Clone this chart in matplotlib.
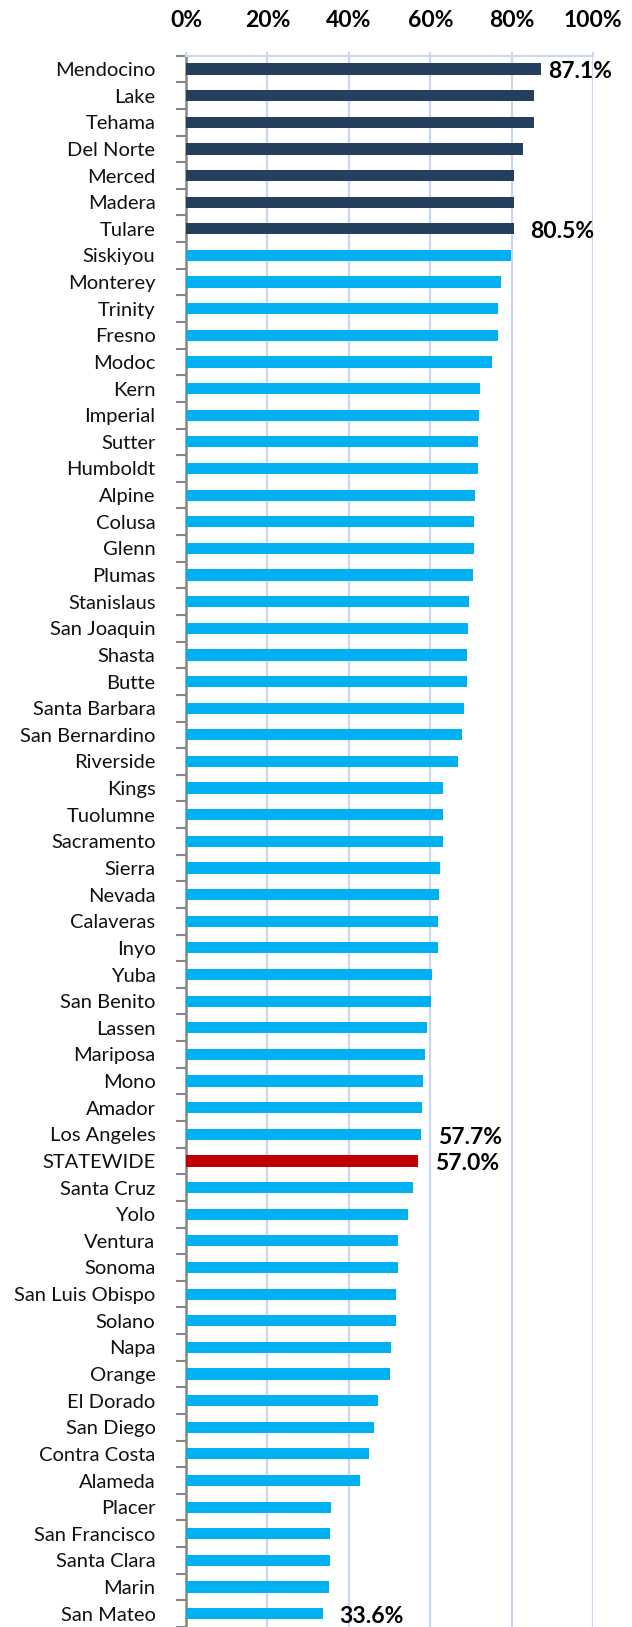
import matplotlib as mpl
import matplotlib.pyplot as plt
import numpy as np
from matplotlib.ticker import FixedLocator, PercentFormatter

COUNTIES = [
    "Mendocino", "Lake", "Tehama", "Del Norte", "Merced", "Madera", "Tulare",
    "Siskiyou", "Monterey", "Trinity", "Fresno", "Modoc", "Kern", "Imperial",
    "Sutter", "Humboldt", "Alpine", "Colusa", "Glenn", "Plumas", "Stanislaus",
    "San Joaquin", "Shasta", "Butte", "Santa Barbara", "San Bernardino",
    "Riverside", "Kings", "Tuolumne", "Sacramento", "Sierra", "Nevada",
    "Calaveras", "Inyo", "Yuba", "San Benito", "Lassen", "Mariposa", "Mono",
    "Amador", "Los Angeles", "STATEWIDE", "Santa Cruz", "Yolo", "Ventura",
    "Sonoma", "San Luis Obispo", "Solano", "Napa", "Orange", "El Dorado",
    "San Diego", "Contra Costa", "Alameda", "Placer", "San Francisco",
    "Santa Clara", "Marin", "San Mateo",
]
PCT = [
    87.1, 85.5, 85.5, 82.7, 80.5, 80.5, 80.5,
    79.8, 77.3, 76.6, 76.6, 75.1, 72.2, 71.9,
    71.7, 71.7, 71.0, 70.7, 70.7, 70.5, 69.5,
    69.2, 69.0, 69.0, 68.3, 67.8,
    66.8, 63.1, 63.1, 63.1, 62.4, 62.1,
    61.9, 61.9, 60.4, 60.2, 59.2, 58.7, 58.2,
    57.9, 57.7, 57.0, 55.7, 54.5, 52.0,
    52.0, 51.6, 51.6, 50.3, 50.1, 47.1,
    46.2, 45.0, 42.8, 35.6, 35.4,
    35.4, 35.1, 33.6,
]
TOP_GROUP = ["Mendocino", "Lake", "Tehama", "Del Norte", "Merced", "Madera", "Tulare"]
LABELLED = {"Mendocino": 5, "Tulare": 12, "Los Angeles": 12, "STATEWIDE": 12, "San Mateo": 12}

NAVY = "#253f5f"
CYAN = "#00b0f0"
RED = "#c00000"
GRID = "#c9d6ee"
SPINE = "#868686"

mpl.rcParams.update({"font.family": ["Lato", "DejaVu Sans"]})

fig = plt.figure(figsize=(6.32, 16.27), dpi=100)
ax = fig.add_axes([186 / 632, 0.0, (593.3 - 186) / 632, 1 - 55.7 / 1627])

y = np.arange(len(COUNTIES))
colors = []
for c in COUNTIES:
    if c == "STATEWIDE":
        colors.append(RED)
    elif c in TOP_GROUP:
        colors.append(NAVY)
    else:
        colors.append(CYAN)
ax.barh(y, PCT, height=0.42, color=colors, zorder=3)

ax.set_xlim(0, 100)
ax.set_ylim(len(COUNTIES) - 0.5, -0.5)
ax.xaxis.set_major_locator(FixedLocator([0, 20, 40, 60, 80, 100]))
ax.xaxis.set_major_formatter(PercentFormatter(decimals=0))
ax.xaxis.tick_top()
ax.tick_params(axis="x", which="major", length=3, width=1.5, color=GRID, pad=15,
               labelsize=16.5, labelcolor="black")
for lab in ax.get_xticklabels():
    lab.set_fontweight("bold")
ax.xaxis.grid(True, color=GRID, linewidth=1.6, zorder=0)

ax.set_yticks(y)
ax.set_yticklabels(COUNTIES)
ax.yaxis.set_minor_locator(FixedLocator(np.arange(-0.5, len(COUNTIES), 1.0)))
ax.tick_params(axis="y", which="major", length=0, pad=22, labelsize=14.5,
               labelcolor="#111111")
ax.tick_params(axis="y", which="minor", length=7, width=1.5, color=SPINE)

for s in ["right", "bottom"]:
    ax.spines[s].set_visible(False)
ax.spines["left"].set_color(SPINE)
ax.spines["left"].set_linewidth(1.8)
ax.spines["top"].set_color(GRID)
ax.spines["top"].set_linewidth(1.5)

for name, off in LABELLED.items():
    i = COUNTIES.index(name)
    ax.annotate(f"{PCT[i]:.1f}%", xy=(PCT[i], i), xytext=(off, -2),
                textcoords="offset points", ha="left", va="center",
                fontsize=16.5, fontweight="bold", annotation_clip=False)

fig.savefig("out.png", dpi=100)
